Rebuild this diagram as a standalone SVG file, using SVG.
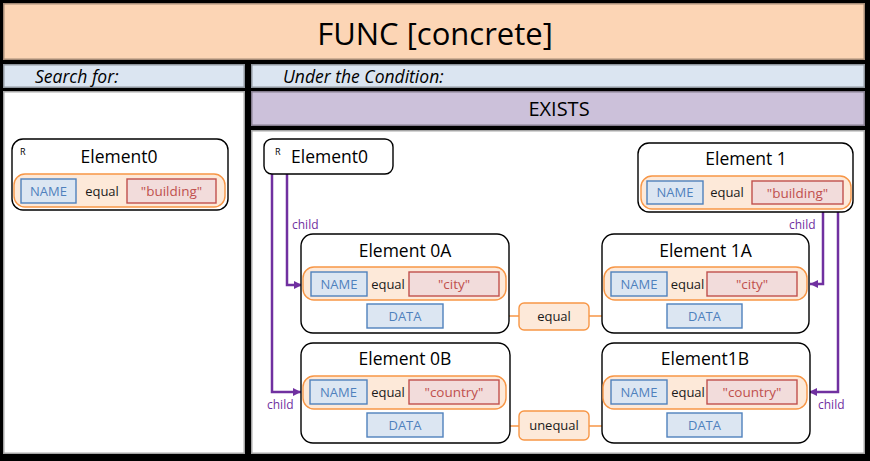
<svg xmlns="http://www.w3.org/2000/svg" width="870" height="461" viewBox="0 0 870 461">
<defs>
<style>
text{font-family:"Open Sans","Liberation Sans",sans-serif;}
.panel{stroke:rgba(0,0,0,0.35);stroke-width:3;}
.el{fill:#fff;stroke:#000;stroke-width:1.4;}
.pill{fill:#fde9d9;stroke:#f79646;stroke-width:1.4;}
.nm{fill:#dce6f2;stroke:#4f81bd;stroke-width:1.4;}
.val{fill:#f2dcdb;stroke:#c0504d;stroke-width:1.4;}
.nt{font-size:13px;fill:#4f81bd;text-anchor:middle;}
.vt{font-size:13.5px;fill:#c0504d;text-anchor:middle;}
.eq{font-size:13px;fill:#1a1a1a;text-anchor:middle;}
.title{font-size:17.5px;fill:#000;text-anchor:middle;}
.titles{font-size:17.5px;fill:#000;text-anchor:start;}
.r{font-size:9px;fill:#000;}
.child{fill:none;stroke:#7030a0;stroke-width:2.5;}
.cl{font-size:12px;fill:#7030a0;}
.oline{fill:none;stroke:#f79646;stroke-width:1.4;}
.obox{fill:#fde9d9;stroke:#f79646;stroke-width:1.4;}
</style>
<marker id="pa" markerUnits="userSpaceOnUse" markerWidth="10" markerHeight="10" refX="8" refY="4" orient="auto">
<path d="M0,0 L8,4 L0,8 Z" fill="#7030a0"/>
</marker>
<marker id="oa" markerUnits="userSpaceOnUse" markerWidth="10" markerHeight="10" refX="8" refY="4" orient="auto">
<path d="M0,0 L8,4 L0,8 Z" fill="#f79646"/>
</marker>
</defs>
<rect x="0" y="0" width="870" height="461" fill="#000"/>
<g id="panels">
<rect class="panel" x="3" y="3" width="862" height="57" fill="#fcd5b5"/>
<rect class="panel" x="3" y="64" width="242" height="24" fill="#dbe5f1"/>
<rect class="panel" x="251" y="64" width="614" height="24" fill="#dbe5f1"/>
<rect class="panel" x="3" y="91" width="242" height="363" fill="#fff"/>
<rect class="panel" x="251" y="91" width="614" height="35" fill="#ccc1da"/>
<rect class="panel" x="251" y="130" width="614" height="324" fill="#fff"/>
<text x="435" y="45" font-size="31" text-anchor="middle" fill="#000">FUNC [concrete]</text>
<text x="35" y="83" font-size="17.5" font-style="italic" fill="#000">Search for:</text>
<text x="283" y="83" font-size="17.5" font-style="italic" fill="#000">Under the Condition:</text>
<text x="559" y="116" font-size="20" text-anchor="middle" fill="#000">EXISTS</text>
</g>
<g id="connectors">
<path class="child" d="M287,174 V285 H302" marker-end="url(#pa)"/>
<path class="child" d="M272,174 V392 H301" marker-end="url(#pa)"/>
<path class="child" d="M823,212 V284 H810" marker-end="url(#pa)"/>
<path class="child" d="M838,212 V392 H809" marker-end="url(#pa)"/>
<text class="cl" x="292" y="229">child</text>
<text class="cl" x="267" y="409">child</text>
<text class="cl" x="789" y="229">child</text>
<text class="cl" x="818" y="409">child</text>
<path class="oline" d="M519,316 H443" marker-end="url(#oa)"/>
<path class="oline" d="M589,316 H666" marker-end="url(#oa)"/>
<path class="oline" d="M519,426 H443" marker-end="url(#oa)"/>
<path class="oline" d="M589,426 H666" marker-end="url(#oa)"/>
</g>
<g id="cond-equal">
<rect class="obox" x="519" y="303" width="70" height="27" rx="5"/>
<text class="eq" x="554" y="321">equal</text>
</g>
<g id="cond-unequal">
<rect class="obox" x="519" y="411" width="70" height="29" rx="5"/>
<text class="eq" x="554" y="430">unequal</text>
</g>
<g id="search-element0">
<rect class="el" x="12" y="139" width="216" height="71" rx="11"/>
<text class="r" x="20" y="155">R</text>
<text class="title" x="119" y="163">Element0</text>
<rect class="pill" x="14" y="174" width="211" height="33" rx="11"/>
<rect class="nm" x="21" y="179" width="55" height="24"/>
<text class="nt" x="48.5" y="195.5">NAME</text>
<text class="eq" x="102" y="195.5">equal</text>
<rect class="val" x="127" y="179" width="89" height="24"/>
<text class="vt" x="171.5" y="196">"building"</text>
</g>
<g id="cond-element0">
<rect class="el" x="264" y="139" width="129" height="35" rx="8"/>
<text class="r" x="275" y="155">R</text>
<text class="titles" x="291" y="163">Element0</text>
</g>
<g id="element1">
<rect class="el" x="638" y="143" width="215" height="69" rx="11"/>
<text class="title" x="746" y="165">Element 1</text>
<rect class="pill" x="641" y="176" width="210" height="33" rx="11"/>
<rect class="nm" x="647" y="181" width="56" height="23"/>
<text class="nt" x="675" y="197">NAME</text>
<text class="eq" x="727" y="197">equal</text>
<rect class="val" x="752" y="181" width="91" height="23"/>
<text class="vt" x="797.5" y="197.5">"building"</text>
</g>
<g id="element0a">
<rect class="el" x="301" y="234" width="208" height="99" rx="12"/>
<text class="title" x="405" y="257">Element 0A</text>
<rect class="pill" x="303" y="267" width="203" height="33" rx="11"/>
<rect class="nm" x="311" y="272" width="56" height="24"/>
<text class="nt" x="339" y="288.5">NAME</text>
<text class="eq" x="388" y="288.5">equal</text>
<rect class="val" x="409" y="272" width="90" height="24"/>
<text class="vt" x="454" y="289">"city"</text>
<rect class="nm" x="367" y="304" width="76" height="24"/>
<text class="nt" x="405" y="320.5">DATA</text>
</g>
<g id="element1a">
<rect class="el" x="602" y="234" width="207" height="99" rx="12"/>
<text class="title" x="705.5" y="257">Element 1A</text>
<rect class="pill" x="604" y="267" width="203" height="33" rx="11"/>
<rect class="nm" x="611" y="272" width="56" height="24"/>
<text class="nt" x="639" y="288.5">NAME</text>
<text class="eq" x="687.5" y="288.5">equal</text>
<rect class="val" x="707" y="272" width="90" height="24"/>
<text class="vt" x="752" y="289">"city"</text>
<rect class="nm" x="667" y="304" width="75" height="24"/>
<text class="nt" x="704.5" y="320.5">DATA</text>
</g>
<g id="element0b">
<rect class="el" x="301" y="343" width="209" height="100" rx="12"/>
<text class="title" x="405" y="365">Element 0B</text>
<rect class="pill" x="303" y="376" width="203" height="33" rx="11"/>
<rect class="nm" x="310" y="380" width="57" height="24"/>
<text class="nt" x="338.5" y="396.5">NAME</text>
<text class="eq" x="388" y="396.5">equal</text>
<rect class="val" x="409" y="380" width="90" height="24"/>
<text class="vt" x="454" y="397">"country"</text>
<rect class="nm" x="367" y="413" width="76" height="24"/>
<text class="nt" x="405" y="429.5">DATA</text>
</g>
<g id="element1b">
<rect class="el" x="602" y="343" width="208" height="100" rx="12"/>
<text class="title" x="705" y="365">Element1B</text>
<rect class="pill" x="603" y="376" width="204" height="33" rx="11"/>
<rect class="nm" x="611" y="380" width="56" height="24"/>
<text class="nt" x="639" y="396.5">NAME</text>
<text class="eq" x="688" y="396.5">equal</text>
<rect class="val" x="707" y="380" width="90" height="24"/>
<text class="vt" x="752" y="397">"country"</text>
<rect class="nm" x="667" y="413" width="75" height="24"/>
<text class="nt" x="704.5" y="429.5">DATA</text>
</g>
</svg>
